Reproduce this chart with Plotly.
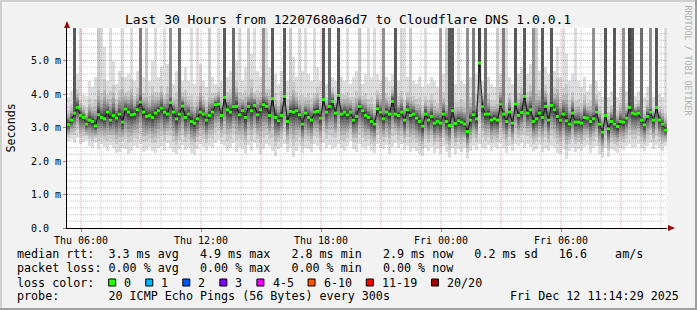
import plotly.graph_objects as go
from datetime import datetime, timedelta

# ---------------- data ----------------
TITLE = "Last 30 Hours from 12207680a6d7 to Cloudflare DNS 1.0.0.1"
START = datetime(2025, 12, 11, 5, 18)
END = datetime(2025, 12, 12, 11, 18)
STEP_MIN = 9  # one smoke column per 9 minutes

median_ms = [
    3.09, 3.22, 3.43, 3.60, 3.36, 3.30, 3.10, 3.22, 3.18, 3.05,
    3.38, 3.30, 3.26, 3.46, 3.22, 3.36, 3.28, 3.40, 3.16, 3.55,
    3.46, 3.38, 3.40, 3.53, 3.76, 3.46, 3.33, 3.36, 3.30, 3.43,
    3.50, 3.58, 3.46, 3.40, 3.74, 3.46, 3.26, 3.40, 3.64, 3.30,
    3.40, 3.18, 3.13, 3.26, 3.46, 3.40, 3.22, 3.36, 3.46, 3.68,
    3.70, 3.36, 3.90, 3.53, 3.46, 3.62, 3.63, 3.38, 3.50, 3.30,
    3.63, 3.50, 3.66, 3.38, 3.53, 3.68, 3.63, 3.36, 3.86, 3.30,
    3.20, 3.36, 3.93, 3.18, 3.48, 3.46, 3.50, 3.38, 3.10, 3.43,
    3.30, 3.22, 3.46, 3.48, 3.28, 3.83, 3.46, 3.63, 3.78, 3.43,
    3.96, 3.40, 3.46, 3.38, 3.46, 3.22, 3.33, 3.63, 3.50, 3.36,
    3.30, 3.18, 3.10, 3.56, 3.46, 3.26, 3.46, 3.40, 3.78, 3.40,
    3.36, 3.46, 3.22, 3.53, 3.36, 3.40, 3.28, 3.18, 3.04, 3.40,
    3.22, 3.33, 3.13, 3.18, 3.13, 3.40, 3.18, 3.06, 3.50, 3.12,
    3.20, 3.16, 3.10, 2.88, 3.22, 3.38, 3.26, 4.92, 3.62, 3.40,
    3.40, 3.22, 3.26, 3.22, 3.70, 3.40, 3.18, 3.46, 3.13, 3.70,
    3.36, 3.45, 3.93, 3.43, 3.53, 3.18, 3.26, 3.43, 3.30, 3.63,
    3.22, 3.66, 3.53, 3.33, 3.22, 3.40, 3.20, 3.10, 3.43, 3.16,
    3.16, 3.13, 3.30, 3.28, 3.18, 3.26, 3.46, 3.10, 2.86, 3.36,
    2.96, 3.18, 3.10, 3.03, 3.18, 3.16, 3.28, 3.60, 3.43, 3.40,
    3.43, 3.22, 3.08, 3.33, 3.46, 3.22, 3.60, 3.22, 3.10, 2.92,
]

smoke_low_ms = [
    2.60, 2.65, 2.55, 2.70, 2.50, 2.58, 2.62, 2.45, 2.40, 2.55,
    2.35, 2.50, 2.42, 2.30, 2.48, 2.38, 2.25, 2.28, 2.40, 2.35,
    2.22, 2.30, 2.45, 2.38, 2.50, 2.26, 2.34, 2.42, 2.30, 2.24,
    2.38, 2.46, 2.30, 2.55, 2.40, 2.28, 2.20, 2.36, 2.48, 2.32,
    2.40, 2.25, 2.18, 2.35, 2.50, 2.42, 2.30, 2.45, 2.38, 2.55,
    2.62, 2.50, 2.45, 2.30, 2.40, 2.55, 2.28, 2.42, 2.35, 2.20,
    2.48, 2.30, 2.55, 2.40, 2.22, 2.36, 2.50, 2.44, 2.30, 2.15,
    2.35, 2.42, 2.50, 2.28, 2.38, 2.12, 2.30, 2.45, 2.25, 2.40,
    2.36, 2.28, 2.50, 2.44, 2.30, 2.55, 2.40, 2.48, 2.35, 2.42,
    2.52, 2.38, 2.30, 2.45, 2.60, 2.35, 2.28, 2.50, 2.42, 2.36,
    2.45, 2.30, 2.25, 2.52, 2.40, 2.35, 2.48, 2.20, 2.42, 2.55,
    2.40, 2.50, 2.32, 2.45, 2.28, 2.38, 2.30, 2.22, 2.15, 2.40,
    2.30, 2.42, 2.25, 2.35, 2.20, 2.45, 2.28, 2.10, 2.38, 2.22,
    2.35, 2.28, 2.40, 2.05, 2.30, 2.45, 2.32, 2.50, 2.40, 2.35,
    2.48, 2.30, 2.42, 2.35, 2.55, 2.40, 2.25, 2.45, 2.30, 2.52,
    2.45, 2.55, 2.38, 2.50, 2.42, 2.30, 2.36, 2.48, 2.28, 2.40,
    2.30, 2.45, 2.38, 2.25, 2.20, 2.35, 2.05, 2.30, 2.40, 2.28,
    2.35, 2.30, 2.42, 2.48, 2.25, 2.38, 2.45, 2.22, 2.08, 2.40,
    2.12, 2.35, 2.30, 2.25, 2.40, 2.32, 2.45, 2.50, 2.38, 2.42,
    2.50, 2.40, 2.30, 2.45, 2.55, 2.35, 2.48, 2.40, 2.30, 2.45,
]

smoke_high_ms = [
    3.90, 4.10, 4.30, 4.60, 4.20, 4.00, 3.95, 4.40, 4.20, 4.50,
    5.20, 4.60, 5.40, 4.40, 4.80, 5.00, 4.30, 4.70, 5.60, 4.50,
    4.60, 5.30, 4.40, 4.70, 5.10, 4.50, 4.80, 4.40, 5.00, 4.60,
    4.50, 4.80, 4.40, 4.90, 4.60, 4.30, 4.70, 4.50, 4.40, 4.80,
    4.40, 4.60, 4.30, 4.50, 4.90, 4.40, 4.20, 4.70, 4.50, 4.30,
    4.60, 4.40, 4.80, 4.50, 4.70, 4.30, 5.00, 4.60, 4.40, 4.80,
    4.50, 5.20, 4.40, 4.70, 4.50, 4.90, 4.60, 4.80, 4.40, 4.60,
    4.30, 4.70, 4.90, 4.40, 4.60, 5.10, 4.50, 4.40, 4.70, 4.30,
    4.60, 4.40, 4.50, 4.80, 4.40, 4.70, 4.30, 4.60, 4.50, 4.40,
    4.70, 4.50, 4.40, 4.60, 4.30, 4.50, 4.70, 4.40, 4.30, 4.60,
    4.30, 4.50, 4.20, 4.60, 4.40, 4.30, 4.50, 4.40, 4.60, 4.30,
    4.40, 4.60, 4.30, 4.50, 4.70, 4.40, 4.30, 4.50, 4.20, 4.40,
    4.30, 4.50, 4.40, 4.20, 4.30, 4.60, 4.40, 4.20, 4.50, 4.30,
    4.20, 4.40, 4.30, 4.10, 4.50, 4.30, 4.60, 5.50, 4.40, 4.30,
    4.50, 4.30, 4.20, 4.40, 4.60, 4.30, 4.20, 4.50, 4.30, 4.70,
    4.60, 4.80, 5.20, 4.60, 4.90, 4.50, 5.10, 4.70, 5.30, 4.80,
    4.60, 5.00, 4.70, 5.40, 4.50, 4.80, 5.20, 4.40, 4.60, 4.30,
    4.40, 4.20, 4.50, 4.10, 4.30, 4.20, 4.40, 4.10, 3.90, 4.20,
    3.90, 4.10, 4.00, 3.90, 4.20, 4.00, 4.10, 4.30, 4.10, 3.95,
    4.10, 4.00, 3.90, 4.20, 4.10, 3.90, 4.30, 4.00, 3.90, 3.80,
]

# column index -> number of the 20 pings that went above the top of the graph
offchart_pings = {
    2: 8, 4: 1, 10: 2, 11: 1, 14: 1, 18: 1, 21: 1, 24: 6, 26: 2, 29: 1,
    32: 1, 34: 5, 37: 7, 41: 1, 43: 1, 47: 2, 50: 1, 52: 8, 55: 7, 57: 1,
    60: 2, 62: 1, 65: 5, 66: 1, 68: 8, 72: 8, 74: 2, 77: 1, 79: 1, 82: 1,
    85: 8, 87: 7, 90: 8, 93: 1, 97: 2, 100: 1, 102: 1, 105: 5, 109: 8,
    111: 1, 112: 1, 114: 2, 119: 1, 124: 4, 126: 2, 127: 8, 128: 8, 130: 1,
    133: 5, 135: 6, 137: 9, 139: 7, 143: 2, 145: 6, 146: 1, 149: 8, 152: 8,
    155: 5, 156: 2, 158: 8, 161: 8, 165: 1, 169: 1, 175: 5, 179: 8, 182: 8,
    185: 5, 187: 9, 188: 8, 191: 7, 194: 5, 196: 8, 199: 1,
}

Y_MAX_MS = 5.97
y_tick_vals = [0, 1, 2, 3, 4, 5]
y_tick_text = ["0.0\u00a0\u00a0", "1.0 m", "2.0 m", "3.0 m", "4.0 m", "5.0 m"]

legend_rows = [
    "median rtt:  3.3 ms avg   4.9 ms max   2.8 ms min   2.9 ms now   0.2 ms sd   16.6    am/s",
    "packet loss: 0.00 % avg   0.00 % max   0.00 % min   0.00 % now",
    "loss color:",
    "probe:       20 ICMP Echo Pings (56 Bytes) every 300s",
]
loss_labels = ["0", "1", "2", "3", "4-5", "6-10", "11-19", "20/20"]
loss_colors = ["#26ff00", "#00b8ff", "#0059ff", "#7e00ff", "#f000ff",
               "#ff5500", "#ff0000", "#a10000"]
STAMP = "Fri Dec 12 11:14:29 2025"
WATERMARK = "RRDTOOL / TOBI OETIKER"

# ---------------- style ----------------
FONT = "DejaVu Sans Mono"
W, H = 697, 310
L, R, T, B = 67, 30, 28, 82
PW, PH = W - L - R, H - T - B

# smoke shades for the 10 ping pairs (outermost -> innermost), smokeping style
pair_shades = [221, 202, 183, 164, 145, 126, 107, 88, 69, 50]
low_frac = [1.0, 0.75, 0.60, 0.49, 0.40, 0.32, 0.25, 0.18, 0.12, 0.06]
high_frac = [1.0, 0.55, 0.40, 0.31, 0.25, 0.20, 0.15, 0.11, 0.075, 0.04]


def px(x):
    return (x - L) / PW


def py(y):
    return (H - B - y) / PH


step = timedelta(minutes=STEP_MIN)
n = len(median_ms)
centers = [START + step * i + step / 2 for i in range(n)]
step_ms = STEP_MIN * 60 * 1000

fig = go.Figure()

for j, shade in enumerate(pair_shades):
    lo, hi = [], []
    for i in range(n):
        m = median_ms[i]
        a = m - (m - smoke_low_ms[i]) * low_frac[j]
        b = m + (smoke_high_ms[i] - m) * high_frac[j]
        if offchart_pings.get(i, 0) > j:
            b = 7.5
        lo.append(a)
        hi.append(b - a)
    fig.add_trace(go.Bar(
        x=centers, y=hi, base=lo, width=step_ms,
        marker=dict(color=f"rgb({shade},{shade},{shade})", line=dict(width=0)),
        hoverinfo="skip", showlegend=False,
    ))

# dark links between consecutive medians
fig.add_trace(go.Scatter(
    x=centers, y=median_ms, mode="lines",
    line=dict(color="#161616", width=1), hoverinfo="skip", showlegend=False,
))
# median markers coloured by loss (all 0 % loss -> green)
fig.add_trace(go.Scatter(
    x=centers, y=median_ms, mode="markers",
    marker=dict(symbol="square", size=3, color=loss_colors[0], line=dict(width=0)),
    hoverinfo="skip", showlegend=False,
))

shapes = []
# grid, drawn over the smoke like rrdtool does
MAJOR = "rgba(222,60,60,0.5)"
MINOR = "rgba(128,128,128,0.45)"
t = datetime(2025, 12, 11, 6)
while t <= END:
    major = t.hour % 3 == 0
    shapes.append(dict(type="line", xref="x", yref="paper", x0=t, x1=t, y0=0, y1=1,
                       line=dict(color=MAJOR if major else MINOR, width=1, dash="1px,1px"),
                       layer="above"))
    t += timedelta(hours=1)
k = 1
while k * 0.2 <= Y_MAX_MS:
    v = k * 0.2
    major = k % 5 == 0
    shapes.append(dict(type="line", xref="paper", yref="y", x0=0, x1=1, y0=v, y1=v,
                       line=dict(color=MAJOR if major else MINOR, width=1, dash="1px,1px"),
                       layer="above"))
    k += 1

# axis arrows
ARROW = "#990000"
shapes.append(dict(type="path", xref="paper", yref="paper", layer="above",
                   path=f"M {px(64)},{py(28)} L {px(70)},{py(28)} L {px(67)},{py(21)} Z",
                   fillcolor=ARROW, line=dict(width=0)))
shapes.append(dict(type="path", xref="paper", yref="paper", layer="above",
                   path=f"M {px(668)},{py(225)} L {px(668)},{py(231)} L {px(675)},{py(228)} Z",
                   fillcolor=ARROW, line=dict(width=0)))

# image frame (rrdtool shade A / shade B)
for (x0, y0, x1, y1, c) in [
    (0, 0, W, 2, "#cfcfcf"), (0, 0, 2, H, "#cfcfcf"),
    (0, H - 2, W, H, "#9e9e9e"), (W - 2, 0, W, H, "#9e9e9e"),
]:
    shapes.append(dict(type="rect", xref="paper", yref="paper", layer="above",
                       x0=px(x0), x1=px(x1), y0=py(y1), y1=py(y0),
                       fillcolor=c, line=dict(width=0)))

# legend colour boxes
row_y = [254.3, 268.3, 282.7, 296.3]
CHAR = 7.05
annotations = []
bx = 108.7
for lab, col in zip(loss_labels, loss_colors):
    shapes.append(dict(type="rect", xref="paper", yref="paper", layer="above",
                       x0=px(bx), x1=px(bx + 7), y0=py(286), y1=py(279),
                       fillcolor=col, line=dict(color="#000000", width=1)))
    annotations.append(dict(x=px(bx + 14.6), y=py(row_y[2]), xref="paper", yref="paper",
                            text=lab, showarrow=False, xanchor="left", yanchor="middle",
                            borderpad=0, font=dict(family=FONT, size=11.7, color="#000")))
    bx += 14.6 + CHAR * len(lab) + 15.4

for r, txt in enumerate(legend_rows):
    annotations.append(dict(x=px(16.4), y=py(row_y[r]), xref="paper", yref="paper",
                            text=txt.replace(" ", "\u00a0"), showarrow=False,
                            xanchor="left", yanchor="middle", borderpad=0,
                            font=dict(family=FONT, size=11.7, color="#000")))
annotations.append(dict(x=px(680), y=py(row_y[3]), xref="paper", yref="paper",
                        text=STAMP, showarrow=False, xanchor="right", yanchor="middle",
                        borderpad=0, font=dict(family=FONT, size=11.7, color="#000")))
annotations.append(dict(x=px(348), y=py(19), xref="paper", yref="paper",
                        text=TITLE, showarrow=False, xanchor="center", yanchor="middle",
                        borderpad=0, font=dict(family=FONT, size=13, color="#000")))
annotations.append(dict(x=px(10.5), y=py(128), xref="paper", yref="paper",
                        text="Seconds", textangle=-90, showarrow=False,
                        xanchor="center", yanchor="middle", borderpad=0,
                        font=dict(family=FONT, size=11.7, color="#000")))
annotations.append(dict(x=px(687.5), y=py(60), xref="paper", yref="paper",
                        text=WATERMARK, textangle=90, showarrow=False,
                        xanchor="center", yanchor="middle", borderpad=0,
                        font=dict(family=FONT, size=8.3, color="#b0b0b0")))

fig.update_layout(
    width=W, height=H,
    margin=dict(l=L, r=R, t=T, b=B, pad=0),
    paper_bgcolor="#f2f2f2", plot_bgcolor="#ffffff",
    barmode="overlay", bargap=0, showlegend=False,
    font=dict(family=FONT, size=10, color="#000"),
    shapes=shapes, annotations=annotations,
    xaxis=dict(type="date", range=[START, END], showgrid=False, zeroline=False,
               showline=True, linecolor="#000000", linewidth=1, layer="above traces",
               tick0="2025-12-11 06:00", dtick=6 * 3600 * 1000, tickformat="%a %H:%M",
               ticks="outside", ticklen=3, tickcolor="#d07070",
               tickfont=dict(family=FONT, size=10, color="#000"), fixedrange=True),
    yaxis=dict(range=[0, Y_MAX_MS], showgrid=False, zeroline=False,
               showline=True, linecolor="#000000", linewidth=1, layer="above traces",
               tickvals=y_tick_vals, ticktext=y_tick_text,
               ticks="outside", ticklen=3, tickcolor="#d07070",
               tickfont=dict(family=FONT, size=10, color="#000"), fixedrange=True),
)

fig.write_html("out.html")
